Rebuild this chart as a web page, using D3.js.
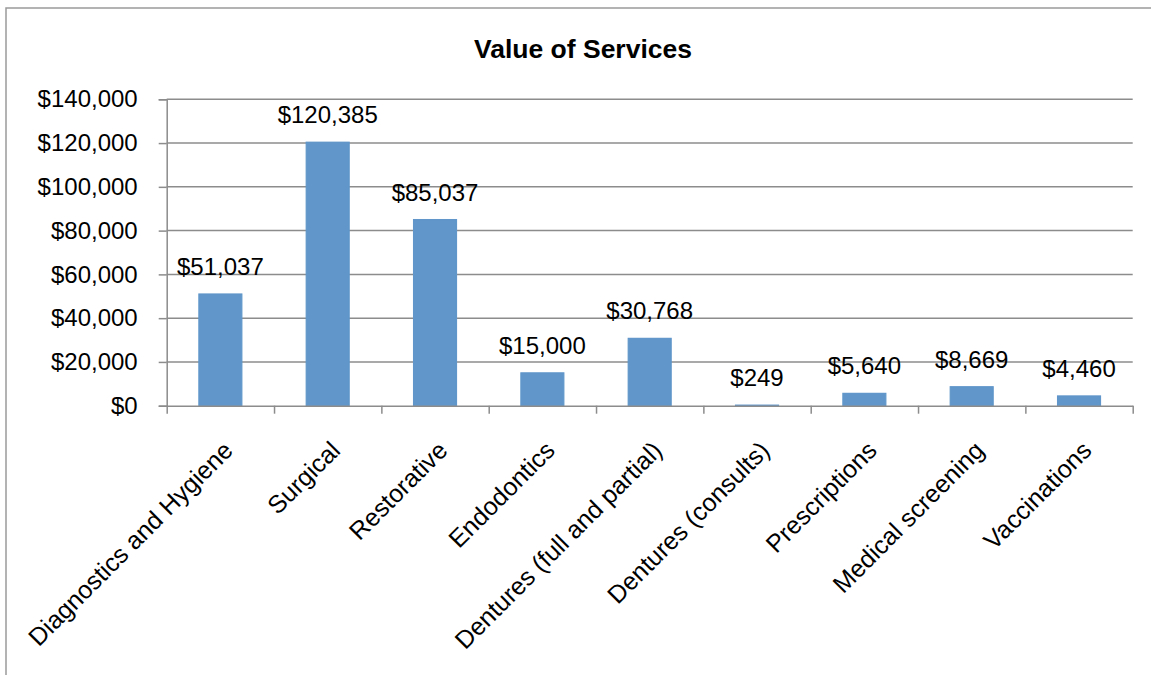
<!DOCTYPE html>
<html>
<head>
<meta charset="utf-8">
<script src="https://cdn.jsdelivr.net/npm/d3@7"></script>
<style>
  html, body { margin: 0; padding: 0; background: #ffffff; }
  svg { display: block; }
  text { font-family: "Liberation Sans", Arial, sans-serif; fill: #000; }
</style>
</head>
<body>
<svg id="chart" width="1151" height="675"></svg>
<script>
const title = "Value of Services";
const categories = [
  "Diagnostics and Hygiene", "Surgical", "Restorative", "Endodontics",
  "Dentures (full and partial)", "Dentures (consults)", "Prescriptions",
  "Medical screening", "Vaccinations"
];
const values = [51037, 120385, 85037, 15000, 30768, 249, 5640, 8669, 4460];
const yTicks = [0, 20000, 40000, 60000, 80000, 100000, 120000, 140000];

const svg = d3.select("#chart");
const W = 1151, H = 675;
const plot = { left: 166.7, right: 1132.7, top: 99.3, bottom: 405.7 };
const gridColor = "#8c8c8c";
const barColor = "#6096ca";

// outer chart border (only top & left visible)
svg.append("path")
  .attr("d", `M6,${H} L6,8 L${W},8`)
  .attr("fill", "none").attr("stroke", "#9a9a9a").attr("stroke-width", 1.5);

const x = d3.scaleBand().domain(categories).range([plot.left, plot.right]).paddingInner(0).paddingOuter(0);
const y = d3.scaleLinear().domain([0, 140000]).range([plot.bottom, plot.top]);
const xi = d3.scaleLinear().domain([0, categories.length]).range([plot.left, plot.right]);

// gridlines
svg.append("g").selectAll("line").data(yTicks.filter(d => d > 0)).join("line")
  .attr("x1", plot.left).attr("x2", plot.right)
  .attr("y1", d => y(d)).attr("y2", d => y(d))
  .attr("stroke", gridColor).attr("stroke-width", 1.5);

// y axis
const yAxis = svg.append("g").attr("transform", `translate(${plot.left},0)`)
  .call(d3.axisLeft(y).tickValues(yTicks).tickSize(8).tickPadding(21)
    .tickFormat(d => "$" + d3.format(",")(d)));
yAxis.select(".domain").attr("stroke", gridColor).attr("stroke-width", 1.5);
yAxis.selectAll(".tick line").attr("stroke", gridColor).attr("stroke-width", 1.5);
yAxis.selectAll(".tick text").attr("font-size", 24).attr("font-family", "Liberation Sans, Arial, sans-serif").attr("fill", "#000");

// bars
const bw = x.bandwidth() * 0.4;
svg.append("g").selectAll("rect").data(values).join("rect")
  .attr("x", (d, i) => x(categories[i]) + (x.bandwidth() - bw) / 2)
  .attr("width", bw)
  .attr("y", d => y(d))
  .attr("height", d => y(0) - y(d))
  .attr("fill", barColor)
  .attr("stroke", barColor).attr("stroke-width", 1.2);

// x axis
const xAxis = svg.append("g").attr("transform", `translate(0,${plot.bottom})`)
  .call(d3.axisBottom(xi).tickValues(d3.range(categories.length + 1))
    .tickSize(8).tickSizeOuter(0).tickFormat(""));
xAxis.select(".domain").attr("stroke", gridColor).attr("stroke-width", 1.5);
xAxis.selectAll(".tick line").attr("stroke", gridColor).attr("stroke-width", 1.5);

// category labels
svg.append("g").selectAll("text").data(categories).join("text")
  .attr("transform", d => `translate(${x(d) + x.bandwidth() / 2 + 14},${452}) rotate(-45)`)
  .attr("text-anchor", "end")
  .attr("font-size", 25)
  .text(d => d);

// data labels
svg.append("g").selectAll("text").data(values).join("text")
  .attr("x", (d, i) => x(categories[i]) + x.bandwidth() / 2)
  .attr("y", d => y(d) - 19)
  .attr("text-anchor", "middle")
  .attr("font-size", 24)
  .text(d => "$" + d3.format(",")(d));

// title
svg.append("text")
  .attr("x", 583).attr("y", 57.5)
  .attr("text-anchor", "middle")
  .attr("font-size", 26.5).attr("font-weight", "bold")
  .text(title);
</script>
</body>
</html>
